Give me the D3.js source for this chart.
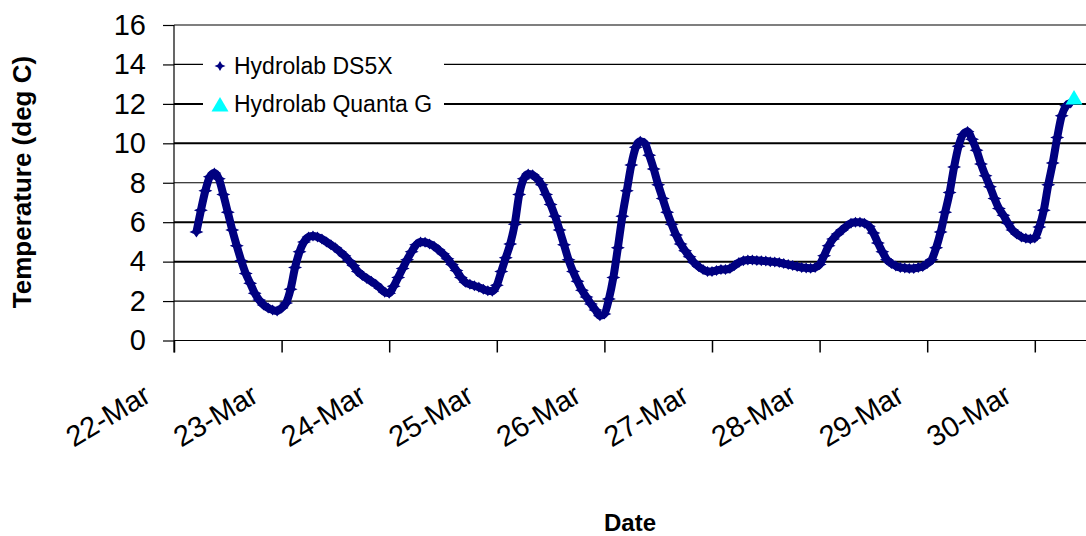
<!DOCTYPE html>
<html>
<head>
<meta charset="utf-8">
<script src="https://cdnjs.cloudflare.com/ajax/libs/d3/7.8.5/d3.min.js"></script>
<style>
body{margin:0;background:#fff;}
text{font-family:"Liberation Sans",Arial,sans-serif;fill:#000;}
</style>
</head>
<body>
<script>
// axis ticks
var yTicks=[0,2,4,6,8,10,12,14,16];
var xTickDays=["2008-03-22","2008-03-23","2008-03-24","2008-03-25","2008-03-26",
  "2008-03-27","2008-03-28","2008-03-29","2008-03-30"];

// Hydrolab DS5X, hourly readings starting 22-Mar 05:00
var ds5xStart="2008-03-22T05:00:00Z";
var ds5xTemps=[
  // 22-Mar 05h-23h
  5.5,6.6,7.6,8.3,8.5,8.2,7.4,6.5,5.6,4.8,4.05,3.4,2.9,2.4,2.05,1.8,1.65,1.55,1.5,
  // 23-Mar
  1.65,1.9,2.6,3.7,4.5,5.0,5.25,5.3,5.25,5.15,5.0,4.85,4.7,4.5,4.3,4.05,3.8,3.5,3.3,3.15,3.0,2.85,2.65,2.45,
  // 24-Mar
  2.4,2.75,3.2,3.65,4.1,4.5,4.85,5.0,4.98,4.9,4.78,4.6,4.4,4.15,3.85,3.55,3.2,2.95,2.85,2.78,2.7,2.6,2.52,2.5,
  // 25-Mar
  2.8,3.5,4.2,4.9,5.9,7.4,8.2,8.45,8.4,8.2,7.9,7.4,6.9,6.3,5.6,4.85,4.1,3.5,3.0,2.55,2.2,1.85,1.55,1.25,
  // 26-Mar
  1.35,2.1,3.2,4.7,6.3,7.6,8.9,9.8,10.1,10.0,9.4,8.7,7.9,7.2,6.5,5.9,5.35,4.9,4.55,4.25,3.95,3.75,3.6,3.5,
  // 27-Mar
  3.5,3.55,3.6,3.6,3.65,3.8,3.95,4.05,4.08,4.08,4.06,4.05,4.03,4.0,3.98,3.95,3.9,3.85,3.8,3.75,3.7,3.68,3.66,3.7,
  // 28-Mar
  3.85,4.3,4.8,5.15,5.4,5.6,5.8,5.95,6.0,6.0,5.95,5.8,5.45,4.95,4.5,4.1,3.9,3.78,3.7,3.68,3.65,3.65,3.7,3.75,
  // 29-Mar
  3.9,4.1,4.7,5.5,6.5,7.5,8.8,9.85,10.45,10.6,10.2,9.65,8.95,8.35,7.8,7.2,6.7,6.35,5.95,5.6,5.4,5.25,5.18,5.15,
  // 30-Mar 00h-08h
  5.2,5.75,6.6,7.9,9.0,10.3,11.4,11.9,12.05
];

// Hydrolab Quanta G
var quantaTimes=["2008-03-30T08:45:00Z"];
var quantaTemps=[12.3];

var width=1086, height=536;

var svg=d3.select("body").append("svg")
  .attr("width",width)
  .attr("height",height)
  .style("background","#fff");

var x=d3.scaleUtc()
  .domain([new Date("2008-03-22T00:00:00Z"),new Date("2008-03-31T00:00:00Z")])
  .range([174,174+9*107.6]);
var y=d3.scaleLinear()
  .domain([0,16])
  .range([340.5,25]);

var t0=new Date(ds5xStart);
var ds5x=ds5xTemps.map(function(v,i){ return {t:d3.utcHour.offset(t0,i), v:v}; });
var quanta=quantaTemps.map(function(v,i){ return {t:new Date(quantaTimes[i]), v:v}; });

// gridlines
var thick=[4,6,10,12];
svg.selectAll(".grid")
  .data(yTicks)
  .enter()
  .append("line")
  .attr("class","grid")
  .attr("x1",174)
  .attr("x2",width)
  .attr("y1",function(d){ return y(d); })
  .attr("y2",function(d){ return y(d); })
  .attr("stroke","#000")
  .attr("stroke-width",function(d){ return thick.indexOf(d)>=0 ? 2 : 1.2; });

// y axis
var yAxis=svg.append("g")
  .attr("transform","translate(174,0)")
  .call(d3.axisLeft(y).tickValues(yTicks).tickSize(11).tickPadding(17));
yAxis.select(".domain").remove();
yAxis.selectAll("line").attr("stroke","#000").attr("stroke-width",1.2);
yAxis.selectAll("text").attr("font-size",29).attr("font-family","Liberation Sans, Arial, sans-serif");

svg.append("line")
  .attr("x1",174).attr("x2",174)
  .attr("y1",y(16)).attr("y2",y(0)+12)
  .attr("stroke","#000").attr("stroke-width",1.2);

// x axis
var xAxis=svg.append("g")
  .attr("transform","translate(0,"+y(0)+")")
  .call(d3.axisBottom(x)
    .tickValues(xTickDays.map(function(d){ return new Date(d+"T00:00:00Z"); }))
    .tickSize(12)
    .tickFormat(d3.utcFormat("%-d-%b")));
xAxis.select(".domain").remove();
xAxis.selectAll("line").attr("stroke","#000").attr("stroke-width",1.5);
xAxis.selectAll("text")
  .attr("font-size",29)
  .attr("font-family","Liberation Sans, Arial, sans-serif")
  .attr("text-anchor","end")
  .attr("x",-22)
  .attr("y",60)
  .attr("dy",0)
  .attr("transform","rotate(-31,-22,60)");

// DS5X series: dense markers drawn over a thick band
var line=d3.line()
  .x(function(d){ return x(d.t); })
  .y(function(d){ return y(d.v); })
  .curve(d3.curveMonotoneX);

svg.append("path")
  .datum(ds5x)
  .attr("d",line)
  .attr("fill","none")
  .attr("stroke","#000080")
  .attr("stroke-width",8)
  .attr("stroke-linejoin","round");

var star="M-7,0L-2.5,-2L0,-5.5L2.5,-2L7,0L2.5,2L0,5.5L-2.5,2Z";

svg.selectAll(".ds5x")
  .data(ds5x)
  .enter()
  .append("path")
  .attr("class","ds5x")
  .attr("d",star)
  .attr("transform",function(d){ return "translate("+x(d.t)+","+y(d.v)+")"; })
  .attr("fill","#000080");

var tri="M0,-8L8.5,6.5L-8.5,6.5Z";
svg.selectAll(".quanta")
  .data(quanta)
  .enter()
  .append("path")
  .attr("class","quanta")
  .attr("d",tri)
  .attr("transform",function(d){ return "translate("+x(d.t)+","+y(d.v)+")"; })
  .attr("fill","#00ffff");

// legend
var legendStar="M-5.5,0L-2,-1.6L0,-5L2,-1.6L5.5,0L2,1.6L0,5L-2,1.6Z";
var legend=svg.append("g");
legend.append("rect")
  .attr("x",203).attr("y",46)
  .attr("width",241).attr("height",76)
  .attr("fill","#fff");
legend.append("path")
  .attr("d",legendStar)
  .attr("transform","translate(220,66)")
  .attr("fill","#000080");
legend.append("text")
  .attr("x",234).attr("y",74)
  .attr("font-size",23)
  .text("Hydrolab DS5X");
legend.append("path")
  .attr("d",tri)
  .attr("transform","translate(220,105)")
  .attr("fill","#00ffff");
legend.append("text")
  .attr("x",234).attr("y",112)
  .attr("font-size",23)
  .text("Hydrolab Quanta G");

// axis titles
svg.append("text")
  .attr("x",630).attr("y",531)
  .attr("text-anchor","middle")
  .attr("font-size",24)
  .attr("font-weight","bold")
  .text("Date");

svg.append("text")
  .attr("transform","translate(31,182) rotate(-90)")
  .attr("text-anchor","middle")
  .attr("font-size",26)
  .attr("font-weight","bold")
  .text("Temperature (deg C)");
</script>
</body>
</html>
